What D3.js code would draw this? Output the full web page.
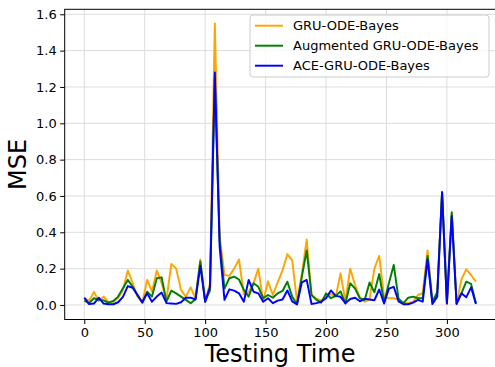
<!DOCTYPE html>
<html><head><meta charset="utf-8">
<script src="https://cdn.jsdelivr.net/npm/d3@7"></script>
<style>body{margin:0;background:#fff}svg{display:block}text{font-family:"DejaVu Sans",sans-serif}</style>
</head><body><svg id="c" width="495" height="367"></svg>
<script>
const seriesNames = ["GRU-ODE-Bayes", "Augmented GRU-ODE-Bayes", "ACE-GRU-ODE-Bayes"];
const seriesColors = ["#ffa500", "#008000", "#0000ff"];
const step = 4;
const gruOdeBayes = [0.037,0.022,0.072,0.022,0.046,0.016,0.018,0.038,0.083,0.19,0.12,0.046,0.013,0.138,0.073,0.19,0.12,0.028,0.226,0.2,0.083,0.046,0.097,0.037,0.25,0.018,0.12,1.55,0.38,
0.165,0.16,0.2,0.25,0.06,0.07,0.12,0.2,0.02,0.13,0.055,0.125,0.19,0.28,0.245,0.02,0.17,0.36,0.055,0.035,0.025,0.045,0.06,0.045,
0.174,0.02,0.2,0.11,0.04,0.018,0.03,0.2,0.27,0.045,0.037,0.037,0.03,0.012,
0.01,0.018,0.055,0.065,0.30,0.018,0.06,0.62,0.005,0.5,0.005,0.14,0.196,0.165,0.128];
const augGruOdeBayes = [0.024,0.01,0.037,0.028,0.025,0.013,0.022,0.046,0.092,0.138,0.1,0.055,0.012,0.073,0.046,0.147,0.152,0.018,0.079,0.064,0.046,0.028,0.01,0.031,0.24,0.018,0.08,1.25,0.35,
0.09,0.147,0.156,0.14,0.083,0.046,0.12,0.10,0.037,0.055,0.04,0.064,0.077,0.128,0.046,0.005,0.156,0.30,0.055,0.028,0.013,0.064,0.037,0.05,
0.075,0.008,0.12,0.09,0.037,0.028,0.124,0.07,0.17,0.013,0.12,0.22,0.035,0.01,
0.04,0.046,0.037,0.037,0.27,0.018,0.07,0.62,0.01,0.51,0.01,0.064,0.128,0.116,0.01];
const aceGruOdeBayes = [0.04,0.005,0.008,0.04,0.008,0.004,0.004,0.015,0.045,0.104,0.095,0.055,0.015,0.064,0.018,0.046,0.068,0.01,0.008,0.006,0.015,0.04,0.04,0.03,0.215,0.018,0.1,1.28,0.32,
0.028,0.086,0.079,0.064,0.018,0.138,0.073,0.064,0.018,0.037,0.01,0.024,0.03,0.08,0.02,0.003,0.125,0.138,0.005,0.01,0.018,0.037,0.08,0.05,
0.045,0.01,0.033,0.04,0.02,0.034,0.03,0.026,0.085,0.008,0.09,0.1,0.02,0.004,
0.004,0.013,0.028,0.018,0.25,0.005,0.046,0.62,0.008,0.49,0.005,0.064,0.042,0.097,0.005];
const xTicks = [0,50,100,150,200,250,300];
const yTicks = [0.0,0.2,0.4,0.6,0.8,1.0,1.2,1.4,1.6];
const xLabel = "Testing Time", yLabel = "MSE";

const allSeries = [gruOdeBayes, augGruOdeBayes, aceGruOdeBayes];
const svg = d3.select("#c");
const L = 64.7, R = 495.5, T = 9.3, B = 319.5;
const x = d3.scaleLinear().domain([-16.2, 340.2]).range([L, R]);
const y = d3.scaleLinear().domain([-0.08, 1.6275]).range([B, T]);

// grid
const g = svg.append("g");
g.selectAll(".gx").data(xTicks).join("line").attr("x1", d=>x(d)).attr("x2", d=>x(d)).attr("y1", T).attr("y2", B).attr("stroke", "#dcdcdc").attr("stroke-width", 1);
g.selectAll(".gy").data(yTicks).join("line").attr("x1", L).attr("x2", R).attr("y1", d=>y(d)).attr("y2", d=>y(d)).attr("stroke", "#dcdcdc").attr("stroke-width", 1);

// lines
const line = d3.line().x((d,i)=>x(i*step)).y(d=>y(d));
allSeries.forEach((s, k) => {
  svg.append("path").datum(s).attr("d", line).attr("fill", "none").attr("stroke", seriesColors[k]).attr("stroke-width", 1.95).attr("stroke-linejoin", "round");
});

// axes
const ax = svg.append("g").attr("transform", `translate(0,${B})`).call(d3.axisBottom(x).tickValues(xTicks).tickFormat(d3.format("d")).tickSize(4.5).tickPadding(3.5));
const ay = svg.append("g").attr("transform", `translate(${L},0)`).call(d3.axisLeft(y).tickValues(yTicks).tickFormat(d3.format(".1f")).tickSize(4.5).tickPadding(3.5));
[ax, ay].forEach(a => { a.selectAll("text").attr("font-size", 13).attr("font-family", "DejaVu Sans").attr("fill", "#000"); a.select(".domain").remove(); a.selectAll("line").attr("stroke", "#000").attr("stroke-width", 1); });
// spines
svg.append("rect").attr("x", L).attr("y", T).attr("width", R - L).attr("height", B - T).attr("fill", "none").attr("stroke", "#000").attr("stroke-width", 1);

svg.append("text").attr("x", (L + R) / 2).attr("y", 362).attr("text-anchor", "middle").attr("font-size", 24).text(xLabel);
svg.append("text").attr("transform", `translate(26,${(T + B) / 2}) rotate(-90)`).attr("text-anchor", "middle").attr("font-size", 24).text(yLabel);

// legend
const lg = svg.append("g");
lg.append("rect").attr("x", 250).attr("y", 15).attr("width", 239).attr("height", 62).attr("rx", 3).attr("fill", "#fff").attr("fill-opacity", 0.8).attr("stroke", "#cccccc").attr("stroke-width", 1);
seriesNames.forEach((n, k) => {
  const cy = 25.7 + k * 20;
  lg.append("line").attr("x1", 255).attr("x2", 283).attr("y1", cy).attr("y2", cy).attr("stroke", seriesColors[k]).attr("stroke-width", 1.95);
  lg.append("text").attr("x", 293).attr("y", cy).attr("dy", "0.35em").attr("font-size", 13).text(n);
});
</script></body></html>
